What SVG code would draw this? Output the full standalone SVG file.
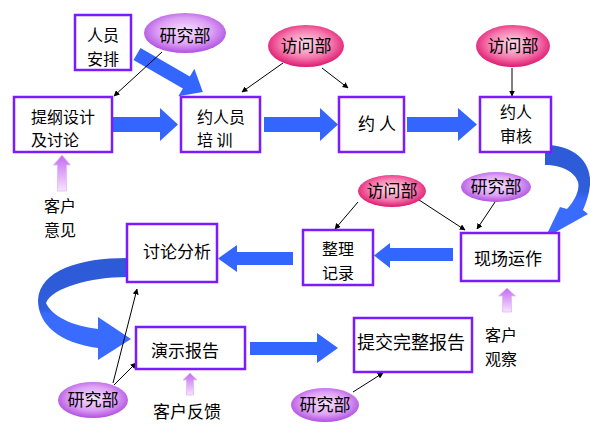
<svg xmlns="http://www.w3.org/2000/svg" width="590" height="442" viewBox="0 0 590 442">
<defs>
<style>
.box{fill:#fff;stroke:#7A1CFF;stroke-width:2.5}
.t{font-family:"Noto Sans CJK SC","Noto Sans",sans-serif;font-size:17px;fill:#000}
.t2{font-size:16px}
.c{text-anchor:middle}
.blue{fill:#3366FF}
.thin{stroke:#000;stroke-width:1;fill:none;marker-end:url(#ah)}
.pu{fill:url(#gPurple)}
.pk{fill:url(#gPink)}
.up{fill:url(#gUp);stroke:#E2B8F5;stroke-width:0.8}
</style>
<marker id="ah" viewBox="0 0 10 10" refX="9" refY="5" markerWidth="6" markerHeight="6" markerUnits="userSpaceOnUse" orient="auto">
<path d="M0,0 L10,5 L0,10 Z" fill="#000"/>
</marker>
<radialGradient id="gPurple" cx="50%" cy="45%" r="55%">
<stop offset="0" stop-color="#F8E2FF"/>
<stop offset="0.6" stop-color="#DDA0F5"/>
<stop offset="1" stop-color="#B050E0"/>
</radialGradient>
<radialGradient id="gPink" cx="50%" cy="45%" r="55%">
<stop offset="0" stop-color="#FFE0EC"/>
<stop offset="0.6" stop-color="#F57AAE"/>
<stop offset="1" stop-color="#E01870"/>
</radialGradient>
<linearGradient id="gUp" x1="0" y1="0" x2="0" y2="1">
<stop offset="0" stop-color="#C46AF0"/>
<stop offset="1" stop-color="#F6E4FF"/>
</linearGradient>
<linearGradient id="gCurveR" x1="0" y1="0" x2="0" y2="1">
<stop offset="0" stop-color="#2D5AD6"/>
<stop offset="0.5" stop-color="#2F5EDC"/>
<stop offset="0.6" stop-color="#3A6BFF"/>
<stop offset="1" stop-color="#3A6BFF"/>
</linearGradient>
<linearGradient id="gCurveL" x1="0" y1="0" x2="0" y2="1">
<stop offset="0" stop-color="#2D5AD6"/>
<stop offset="0.5" stop-color="#2F5EDC"/>
<stop offset="0.55" stop-color="#3A6BFF"/>
<stop offset="1" stop-color="#3A6BFF"/>
</linearGradient>
</defs>
<rect width="590" height="442" fill="#fff"/>

<g id="connectors">
<path class="blue" d="M112,117 H160 V108 L178,124.5 L160,141 V132 H112 Z"/>
<path class="blue" d="M264,117 H320 V108 L338,124.5 L320,141 V132 H264 Z"/>
<path class="blue" d="M407,117 H458 V108 L477,124.5 L458,141 V132 H407 Z"/>
<path class="blue" d="M453,248 H390 V243 L374,255.5 L390,268 V261 H453 Z"/>
<path class="blue" d="M293,252 H237 V245 L218,258.5 L237,272 V265 H293 Z"/>
<path class="blue" d="M250,342 H317 V333 L338,348 L317,363 V355 H250 Z"/>
<path class="blue" transform="translate(137,54) rotate(30)" d="M0,-7 H57 V-16 L76,0 L57,16 V7 H0 Z"/>
<path fill="url(#gCurveR)" d="M545,145 C572,145 592,160 590,185 C589,195 586,203 583,210 L588,214 L545,238 L560,207 L567,209 C575,200 580,190 578,182 C575,172 562,165 545,165 Z"/>
<path fill="url(#gCurveL)" d="M127,258 C80,258 40,270 38,300 C38,325 60,343 98,348 L98,360 L131,339 L98,317 L98,329 C72,326 52,316 46,303 C52,288 90,277 127,277 Z"/>
<line class="thin" x1="162" y1="52" x2="114" y2="96"/>
<line class="thin" x1="283" y1="63" x2="242" y2="92"/>
<line class="thin" x1="322" y1="68" x2="348" y2="88"/>
<line class="thin" x1="512" y1="68" x2="512" y2="96"/>
<line class="thin" x1="358" y1="202" x2="335" y2="229"/>
<line class="thin" x1="416" y1="198" x2="465" y2="230"/>
<line class="thin" x1="495" y1="202" x2="477" y2="229"/>
<line class="thin" x1="113" y1="383" x2="137" y2="289"/>
<line class="thin" x1="114" y1="385" x2="136" y2="363"/>
<line class="thin" x1="353" y1="392" x2="383" y2="373"/>
<path class="up" d="M62,155 L70.5,165 L66.5,165 L66.5,191 L57.5,191 L57.5,165 L53.5,165 Z"/>
<path class="up" d="M507,288 L515.5,296 L511.5,296 L511.5,312 L502.5,312 L502.5,296 L498.5,296 Z"/>
<path class="up" d="M190,373 L197,380 L193.5,380 L193.5,395 L186.5,395 L186.5,380 L183,380 Z"/>
</g>

<g id="n-renyuan"><rect class="box" x="75" y="15" width="56" height="55"/><text class="t t2 c" x="103" y="41">人员</text><text class="t t2 c" x="103" y="64.5">安排</text></g>
<g id="n-tigang"><rect class="box" x="14" y="97" width="98" height="55"/><text class="t t2" x="31" y="122.5">提纲设计</text><text class="t t2" x="31" y="146">及讨论</text></g>
<g id="n-peixun"><rect class="box" x="181" y="97" width="79" height="55"/><text class="t t2" x="197" y="122.5">约人员</text><text class="t t2" x="197" y="146" xml:space="preserve">培 训</text></g>
<g id="n-yueren"><rect class="box" x="339" y="97" width="65" height="55"/><text class="t c" x="377" y="130" xml:space="preserve">约 人</text></g>
<g id="n-shenhe"><rect class="box" x="480" y="97" width="71" height="55"/><text class="t t2 c" x="516" y="118">约人</text><text class="t t2 c" x="516" y="141.5">审核</text></g>
<g id="n-xianchang"><rect class="box" x="461" y="233" width="98" height="48"/><text class="t c" x="508" y="265">现场运作</text></g>
<g id="n-zhengli"><rect class="box" x="303" y="230" width="70" height="55"/><text class="t t2 c" x="338" y="255">整理</text><text class="t t2 c" x="338" y="278.5">记录</text></g>
<g id="n-taolun"><rect class="box" x="127" y="224" width="90" height="58"/><text class="t c" x="177" y="258">讨论分析</text></g>
<g id="n-yanshi"><rect class="box" x="136" y="327" width="109" height="42"/><text class="t c" x="185" y="357">演示报告</text></g>
<g id="n-tijiao"><rect class="box" x="354" y="318" width="118" height="54"/><text class="t c" x="411" y="349" style="font-size:18px">提交完整报告</text></g>

<g id="e-yanjiu1"><ellipse class="pu" cx="185" cy="33" rx="41" ry="20"/><text class="t c" x="185" y="42">研究部</text></g>
<g id="e-fangwen1"><ellipse class="pk" cx="306" cy="46" rx="38" ry="21"/><text class="t c" x="306" y="52">访问部</text></g>
<g id="e-fangwen2"><ellipse class="pk" cx="513" cy="46" rx="37" ry="21"/><text class="t c" x="513" y="52">访问部</text></g>
<g id="e-fangwen3"><ellipse class="pk" cx="392" cy="191" rx="34" ry="16"/><text class="t c" x="392" y="197">访问部</text></g>
<g id="e-yanjiu2"><ellipse class="pu" cx="496" cy="187" rx="35" ry="15"/><text class="t c" x="496" y="193">研究部</text></g>
<g id="e-yanjiu3"><ellipse class="pu" cx="93" cy="400" rx="35" ry="18"/><text class="t c" x="93" y="406">研究部</text></g>
<g id="e-yanjiu4"><ellipse class="pu" cx="325" cy="405" rx="34" ry="17"/><text class="t c" x="325" y="411">研究部</text></g>

<g id="labels">
<text class="t t2" x="44" y="212">客户</text>
<text class="t t2" x="44" y="235.5">意见</text>
<text class="t t2" x="485" y="341">客户</text>
<text class="t t2" x="485" y="364.5">观察</text>
<text class="t" x="153" y="418">客户反馈</text>
</g>
</svg>
